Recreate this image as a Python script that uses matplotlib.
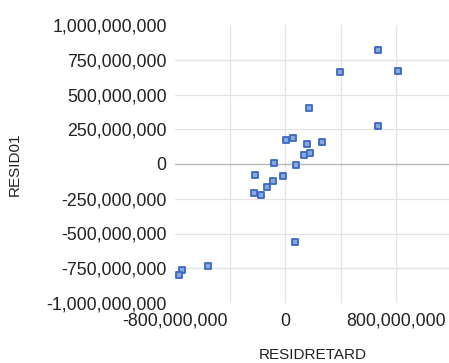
import matplotlib
matplotlib.use("Agg")
import matplotlib.pyplot as plt
from matplotlib.ticker import FuncFormatter, MultipleLocator

plt.rcParams['font.family'] = ['Liberation Sans', 'DejaVu Sans']

# residuals (retarded vs. current)
residretard = [667.6e6, 397.8e6, 819.5e6, 168.5e6, 667.6e6, 2e6, 57.9e6, 154e6,
               262.6e6, 134.5e6, 178e6, -82e6, 74.5e6, -217e6, -17e6, -90e6,
               -133e6, -229e6, -174e6, 67e6, -564e6, -748e6, -772e6]
resid01 = [822e6, 664e6, 671e6, 405e6, 271e6, 175e6, 187e6, 144e6,
           160e6, 65e6, 77e6, 5e6, -5e6, -79e6, -86e6, -122e6,
           -163e6, -206e6, -225e6, -559e6, -734e6, -765e6, -801e6]

x_labelled = [-800e6, 0, 800e6]
x_grid = [-400e6, 0, 400e6, 800e6]
y_grid = [-750e6, -500e6, -250e6, 250e6, 500e6, 750e6]

fig = plt.figure(figsize=(4.49, 3.63), dpi=100)
ax = fig.add_axes([175/449, 60/363, 276/449, 278/363])

ax.scatter(residretard, resid01, marker='s', s=13, facecolor='#86a8de',
           edgecolor='#3b68c2', linewidths=1.3, zorder=3)

ax.set_xlim(-800e6, 1200e6)
ax.set_ylim(-1000e6, 1000e6)
ax.xaxis.set_major_locator(MultipleLocator(400e6))
ax.yaxis.set_major_locator(MultipleLocator(250e6))

def xfmt(v, pos):
    if any(abs(v - t) < 1 for t in x_labelled):
        return f"{v:,.0f}"
    return ""

ax.xaxis.set_major_formatter(FuncFormatter(xfmt))
ax.yaxis.set_major_formatter(FuncFormatter(lambda v, p: f"{v:,.0f}"))

# inner gridlines only, zero line a bit darker
for gx in x_grid:
    ax.axvline(gx, color='#e4e4e4', linewidth=0.9, zorder=0)
for gy in y_grid:
    ax.axhline(gy, color='#e4e4e4', linewidth=0.9, zorder=0)
ax.axhline(0, color='#b8b8b8', linewidth=1.0, zorder=1)

for s in ax.spines.values():
    s.set_visible(False)
ax.tick_params(length=0, labelsize=12.8, labelcolor='#222222')
ax.tick_params(axis='x', pad=7)
ax.tick_params(axis='y', pad=6)

ax.set_xlabel("RESIDRETARD", fontsize=11, color='#222222')
ax.xaxis.set_label_coords(0.5, -45/278)
ax.set_ylabel("RESID01", fontsize=11, color='#222222')
ax.yaxis.set_label_coords(-153/276, 0.5)

fig.savefig("out.png", dpi=100)
